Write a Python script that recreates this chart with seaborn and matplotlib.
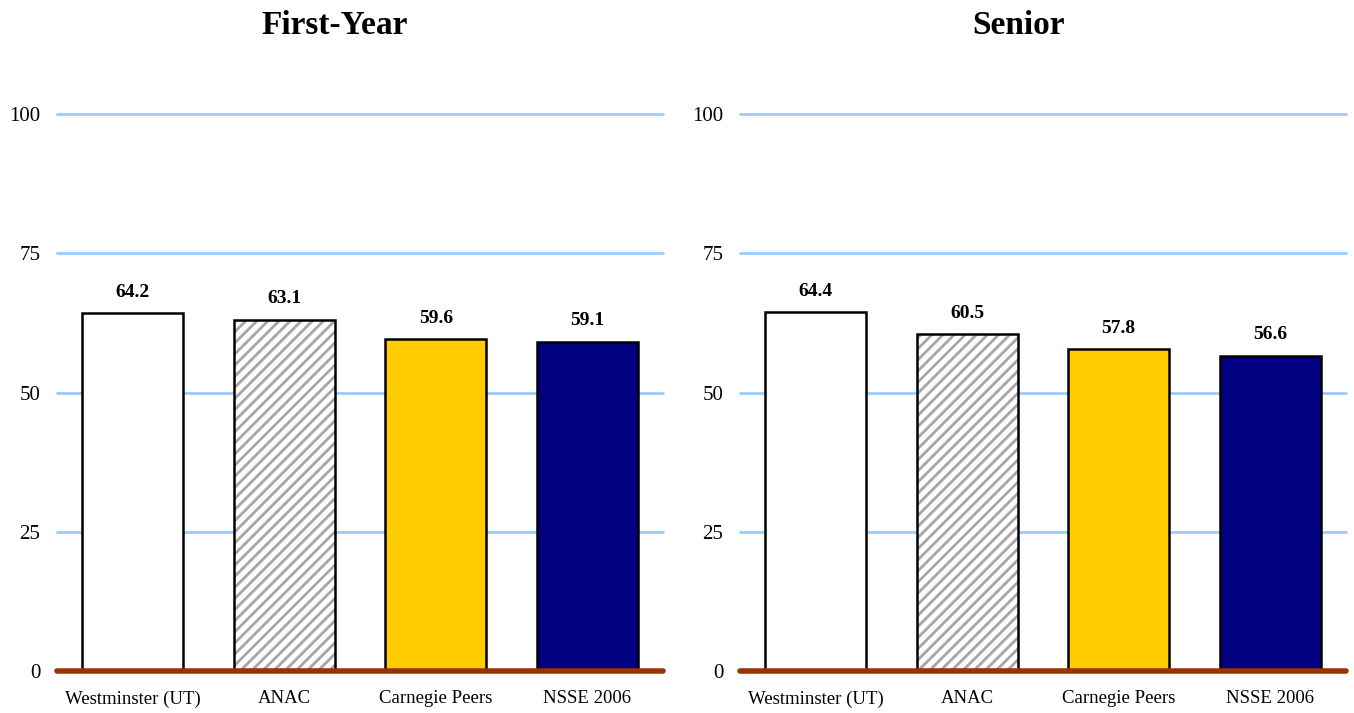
import matplotlib
matplotlib.use("Agg")
import matplotlib.pyplot as plt
import seaborn as sns

groups = ["Westminster (UT)", "ANAC", "Carnegie Peers", "NSSE 2006"]
first_year = [64.2, 63.1, 59.6, 59.1]
senior = [64.4, 60.5, 57.8, 56.6]
panel_titles = ["First-Year", "Senior"]
y_ticks = [0, 25, 50, 75, 100]

bar_colors = ["#FFFFFF", "#FFFFFF", "#FFCC00", "#000080"]

sns.set_theme(style="white")
plt.rcParams["font.family"] = ["Liberation Serif", "DejaVu Serif"]
plt.rcParams["hatch.linewidth"] = 2.0
plt.rcParams["text.color"] = "black"
plt.rcParams["xtick.color"] = "black"
plt.rcParams["ytick.color"] = "black"

fig = plt.figure(figsize=(13.54, 7.13), dpi=100)
lefts = [57 / 1354, 740 / 1354]
centers = [335 / 1354, 1018 / 1354]


def draw_panel(ax, values, title, xc):
    # fill layer (hatch uses edge colour, so draw it in gray without border)
    sns.barplot(x=groups, y=values, hue=groups, palette=bar_colors, legend=False,
                saturation=1, width=0.667, linewidth=0, edgecolor="#A6A6A6",
                ax=ax, zorder=3)
    ax.patches[1].set_hatch("///")
    ax.patches[1].set_edgecolor("#A6A6A6")
    # outline layer
    sns.barplot(x=groups, y=values, width=0.667, fill=False, linewidth=1.8,
                edgecolor="black", ax=ax, zorder=4)
    ax.bar_label(ax.containers[-1], labels=[f"{v:.1f}" for v in values],
                 padding=9, fontsize=14, fontweight="bold", color="black")
    ax.set_ylim(0, 100)
    ax.set_xlim(-0.5, 3.5)
    ax.set_yticks(y_ticks)
    ax.yaxis.grid(True, color="#99CCFF", linewidth=2)
    ax.set_axisbelow(True)
    for s in ["top", "right", "left"]:
        ax.spines[s].set_visible(False)
    ax.spines["bottom"].set_color("#993300")
    ax.spines["bottom"].set_linewidth(4)
    ax.spines["bottom"].set_capstyle("round")
    ax.spines["bottom"].set_zorder(5)
    ax.tick_params(axis="y", length=0, pad=12, labelsize=15)
    ax.tick_params(axis="x", length=0, pad=14, labelsize=13.5)
    ax.set_xlabel("")
    ax.set_ylabel("")
    ax.set_facecolor("white")
    for g in ax.get_ygridlines():
        g.set_clip_on(False)
    fig.text(xc, 1 - 26 / 713, title, ha="center", va="center",
             fontsize=24, fontweight="bold")


for i, vals in enumerate([first_year, senior]):
    ax = fig.add_axes([lefts[i], 42 / 713, 606 / 1354, 557 / 713])
    draw_panel(ax, vals, panel_titles[i], centers[i])

fig.savefig("out.png", dpi=100, facecolor="white")
